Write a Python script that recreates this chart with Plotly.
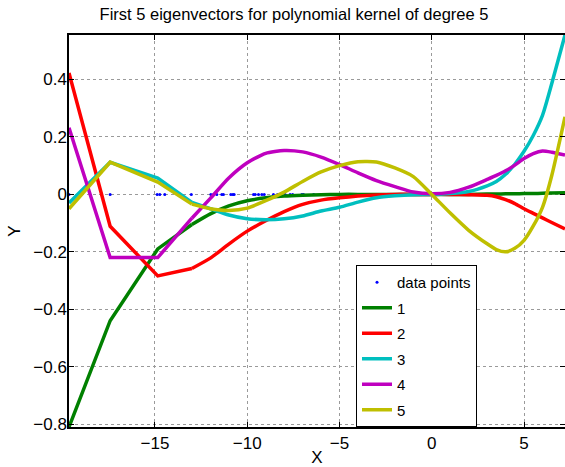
import plotly.graph_objects as go

# ---- data ----
data_x = [-19.66, -17.43, -14.88, -14.74, -14.47, -13.03, -11.97, -11.83, -11.65,
          -11.38, -11.29, -10.89, -10.78, -10.71, -9.66, -9.57, -9.39, -9.21, -9.08,
          -8.58, -8.36, -7.95, -7.68, -7.54, -7.04, -6.95, -6.4, -5.9, -5.5]
data_y = [0.0] * len(data_x)

# sparse part (straight segments between data points)
x_left = [-19.66, -17.43, -14.85, -13.0]
# dense part (smooth)
x_right = [-13.0, -12.0, -11.0, -10.0, -9.0, -8.0, -7.0, -6.0, -5.0, -4.0, -3.0,
           -2.0, -1.0, 0.0, 1.0, 2.0, 3.0, 3.5, 4.0, 4.5, 5.0, 5.5, 6.0, 6.5, 7.22]

ev1_left = [-0.81, -0.44, -0.19, -0.105]
ev1_right = [-0.105, -0.068, -0.040, -0.022, -0.012, -0.006, -0.003, -0.001, 0.0, 0.0, 0.0,
             0.0, 0.0, 0.0, 0.0, 0.0, 0.001, 0.001, 0.002, 0.002, 0.003, 0.003, 0.004, 0.005, 0.006]

ev2_left = [0.423, -0.111, -0.284, -0.258]
ev2_right = [-0.258, -0.222, -0.173, -0.128, -0.092, -0.06, -0.035, -0.02, -0.012, -0.006, -0.002,
             0.0, 0.0, 0.0, 0.0, -0.001, -0.003, -0.008, -0.018, -0.032, -0.05, -0.066, -0.082, -0.098, -0.12]

ev3_left = [-0.03, 0.112, 0.057, -0.028]
ev3_right = [-0.028, -0.05, -0.072, -0.085, -0.088, -0.085, -0.075, -0.058, -0.045, -0.027, -0.012,
             -0.005, -0.001, 0.0, 0.003, 0.01, 0.03, 0.045, 0.07, 0.105, 0.15, 0.205, 0.275, 0.385, 0.555]

ev4_left = [0.232, -0.22, -0.22, -0.083]
ev4_right = [-0.083, -0.014, 0.057, 0.11, 0.143, 0.153, 0.148, 0.13, 0.104, 0.075, 0.048,
             0.027, 0.008, 0.002, 0.007, 0.025, 0.052, 0.066, 0.082, 0.102, 0.125, 0.142, 0.151, 0.147, 0.137]

ev5_left = [-0.05, 0.112, 0.043, -0.034]
ev5_right = [-0.034, -0.05, -0.056, -0.048, -0.022, 0.008, 0.045, 0.078, 0.1, 0.114, 0.113,
             0.092, 0.062, 0.0, -0.065, -0.125, -0.172, -0.192, -0.2, -0.188, -0.16, -0.11, -0.045, 0.065, 0.27]

names = ["1", "2", "3", "4", "5"]
colors = ["#008000", "#FF0000", "#00BFBF", "#BF00BF", "#BFBF00"]
lefts = [ev1_left, ev2_left, ev3_left, ev4_left, ev5_left]
rights = [ev1_right, ev2_right, ev3_right, ev4_right, ev5_right]

x_ticks = [-15, -10, -5, 0, 5]
y_ticks = [-0.8, -0.6, -0.4, -0.2, 0, 0.2, 0.4]

FONT = "Liberation Sans, Arial, Helvetica, sans-serif"

fig = go.Figure()
fig.add_trace(go.Scatter(x=data_x, y=data_y, mode="markers", name="data points",
                         legendgroup="dp",
                         marker=dict(color="#0000FF", size=3)))
for nm, c, yl, yr in zip(names, colors, lefts, rights):
    fig.add_trace(go.Scatter(x=x_left, y=yl, mode="lines", name=nm, legendgroup=nm,
                             line=dict(color=c, width=3.5)))
    fig.add_trace(go.Scatter(x=x_right, y=yr, mode="lines", name=nm, legendgroup=nm,
                             showlegend=False,
                             line=dict(color=c, width=3.5, shape="spline", smoothing=0.6)))

axis_common = dict(
    showline=True, linecolor="black", linewidth=1.5, mirror="ticks",
    ticks="inside", ticklen=5, tickcolor="black", tickwidth=1,
    showgrid=True, gridcolor="#9a9a9a", griddash="dot", gridwidth=1,
    zeroline=False, automargin=False,
    tickfont=dict(family=FONT, size=17, color="black"),
)

fig.update_layout(
    width=565, height=467,
    margin=dict(l=69, r=0, t=35, b=40),
    paper_bgcolor="white", plot_bgcolor="white",
    font=dict(family=FONT, size=17, color="black"),
    title=dict(text="First 5 eigenvectors for polynomial kernel of degree 5",
               x=294 / 565, xref="container", xanchor="center",
               y=1 - 14 / 467, yref="container", yanchor="middle",
               font=dict(family=FONT, size=16.5, color="black")),
    xaxis=dict(range=[-19.66, 7.22], tickvals=x_ticks,
               title=dict(text="X", standoff=0, font=dict(family=FONT, size=17)),
               **axis_common),
    yaxis=dict(range=[-0.81, 0.555], tickvals=y_ticks, ticklabelstandoff=-3,
               title=dict(text="Y", standoff=8, font=dict(family=FONT, size=17)),
               **axis_common),
    legend=dict(x=(356 - 69) / 496, y=(427 - 265) / 392, xanchor="left", yanchor="top",
                bgcolor="white", bordercolor="black", borderwidth=1,
                font=dict(family=FONT, size=15, color="black"),
                tracegroupgap=3, traceorder="grouped"),
    showlegend=True,
)

fig.write_html(
    "out.html",
    config={"displayModeBar": False},
    post_script="document.body.style.margin='0';document.body.style.overflow='hidden';",
)
